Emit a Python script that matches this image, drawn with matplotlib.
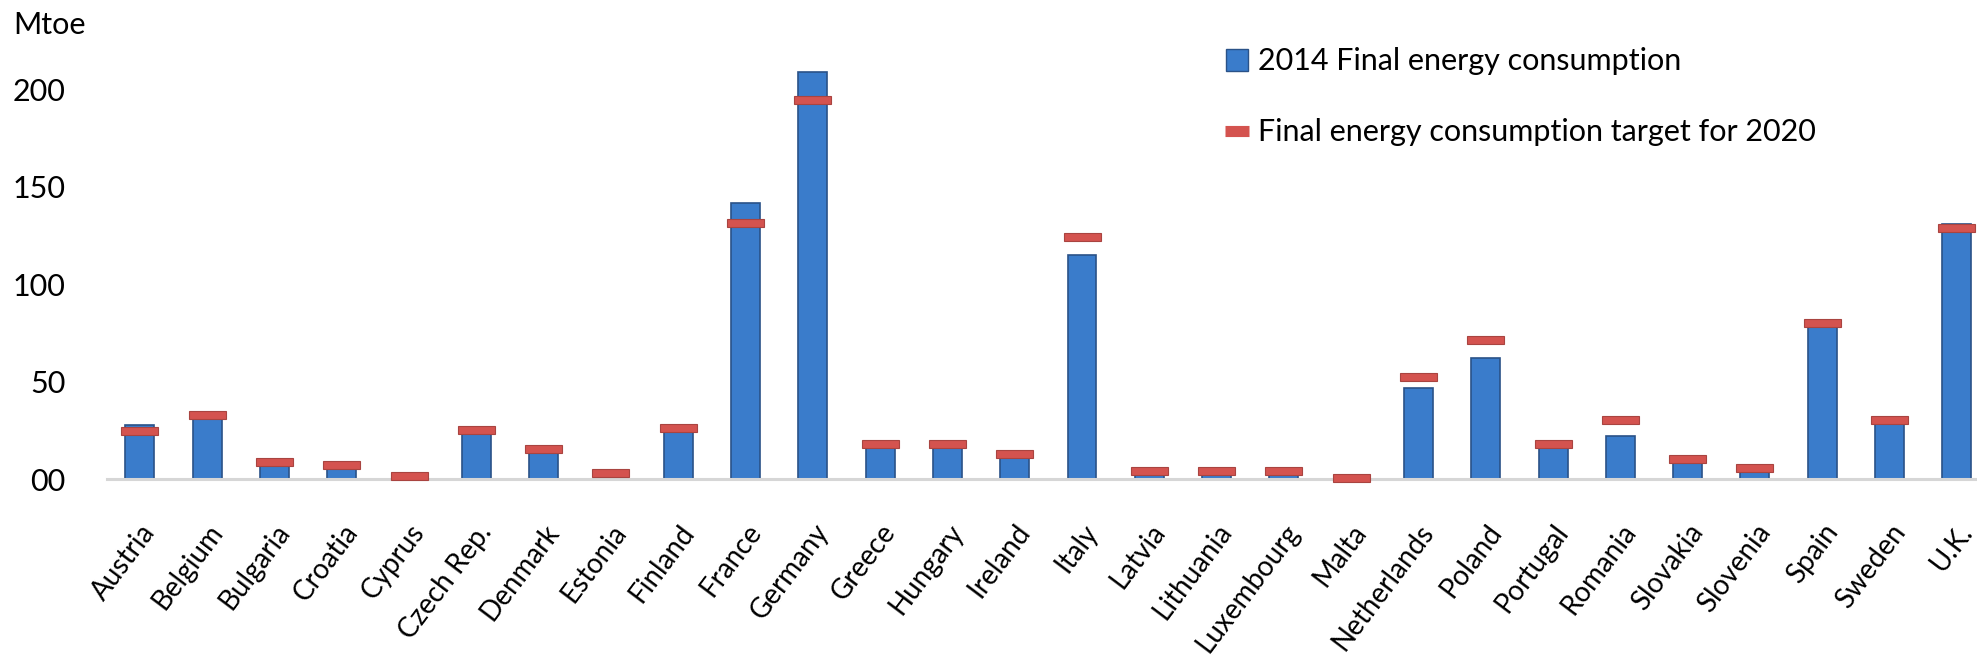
import matplotlib
matplotlib.use("Agg")
import matplotlib.pyplot as plt
from matplotlib.lines import Line2D
import numpy as np

plt.rcParams['font.family'] = ['Lato', 'DejaVu Sans']

countries = ["Austria", "Belgium", "Bulgaria", "Croatia", "Cyprus", "Czech Rep.",
             "Denmark", "Estonia", "Finland", "France", "Germany", "Greece",
             "Hungary", "Ireland", "Italy", "Latvia", "Lithuania", "Luxembourg",
             "Malta", "Netherlands", "Poland", "Portugal", "Romania", "Slovakia",
             "Slovenia", "Spain", "Sweden", "U.K."]

consumption_2014 = [27.7, 33.8, 8.0, 6.0, 1.5, 24.0, 13.8, 2.6, 24.6, 141.5, 208.5, 16.0,
                    16.0, 10.8, 115.0, 3.9, 3.8, 3.9, 0.6, 46.7, 62.0, 16.0, 22.2, 9.5,
                    4.5, 78.0, 31.8, 131.0]

target_2020 = [24.8, 32.8, 8.6, 7.1, 1.6, 25.2, 15.4, 3.1, 26.3, 131.3, 194.3, 17.9,
               17.9, 12.8, 124.0, 4.3, 4.3, 4.3, 0.5, 52.3, 71.3, 18.0, 30.3, 10.2,
               5.8, 79.8, 30.3, 128.8]

ytick_vals = [0, 50, 100, 150, 200]
ytick_labels = ["00", "50", "100", "150", "200"]

fig = plt.figure(figsize=(19.77, 6.64), dpi=100)
ax = fig.add_axes([0.0541, 0.2786, 0.9459, 0.6461])

x = np.arange(len(countries))

ax.bar(x, consumption_2014, width=0.43, color="#3A7CCB", edgecolor="#2A5288",
       linewidth=1.2, zorder=2, label="2014 Final energy consumption")

# target markers: short thick red bars centered on the target value
ax.bar(x, 4.2, bottom=np.array(target_2020) - 2.1, width=0.55, color="#D4534F",
       edgecolor="#A94440", linewidth=0.8, zorder=3, clip_on=False)

ax.set_xlim(-0.49, 27.3)
ax.set_ylim(0, 220)

ax.set_yticks(ytick_vals)
ax.set_yticklabels(ytick_labels, fontsize=22)
ax.tick_params(axis="y", length=0, pad=30)

ax.set_xticks(x)
ax.set_xticklabels(countries, fontsize=20, rotation=53, ha="right",
                   va="top", rotation_mode="anchor")
ax.tick_params(axis="x", length=0, pad=29)

for s in ["top", "right", "left"]:
    ax.spines[s].set_visible(False)
ax.spines["bottom"].set_color("#D6D6D6")
ax.spines["bottom"].set_linewidth(2.2)

fig.text(0.0066, 0.962, "Mtoe", fontsize=22, ha="left", va="center")

handles = [
    Line2D([], [], marker="s", markersize=16, color="#3A7CCB",
           markeredgecolor="#2A5288", linestyle="none"),
    Line2D([], [], color="#D4534F", linewidth=8, solid_capstyle="butt"),
]
labels = ["2014 Final energy consumption", "Final energy consumption target for 2020"]
ax.legend(handles, labels, loc="upper left", bbox_to_anchor=(0.583, 1.07),
          frameon=False, fontsize=22, handlelength=0.8, handletextpad=0.3,
          labelspacing=1.4)

fig.savefig("out.png", dpi=100)
